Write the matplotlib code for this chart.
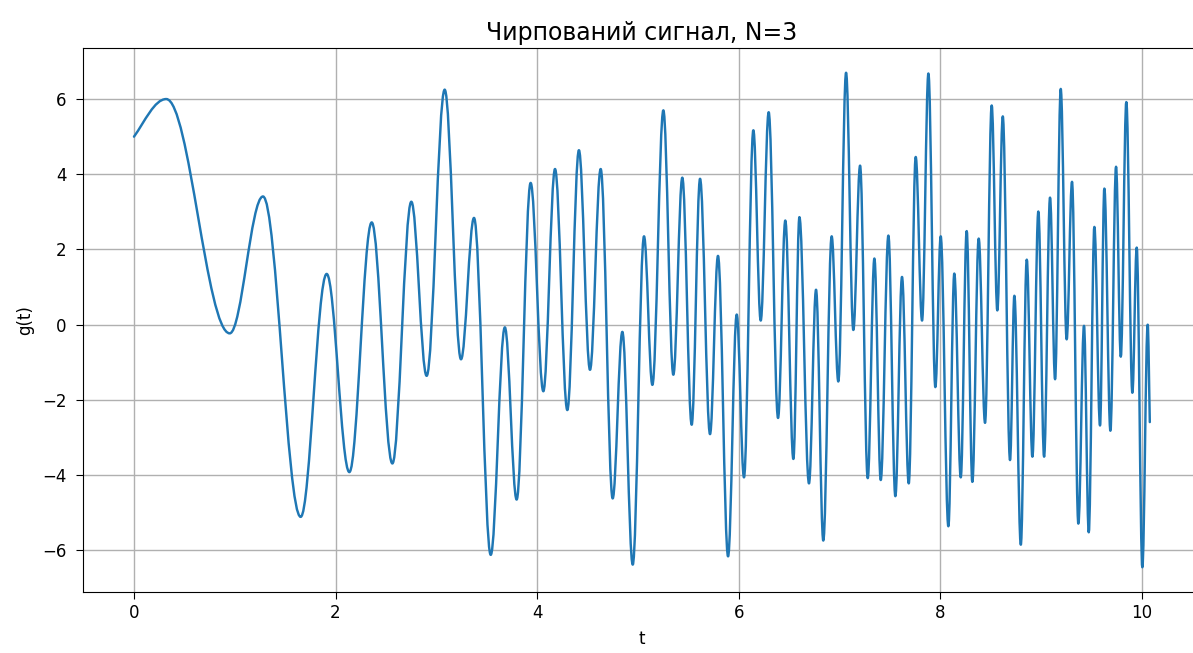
import matplotlib
matplotlib.use("Agg")
import matplotlib.pyplot as plt
from matplotlib.path import Path
from matplotlib.patches import PathPatch

# extrema of the chirped signal (start, peaks/troughs, end)
t_ext = [0.0, 0.32, 0.95, 1.28, 1.654, 1.912, 2.137, 2.359, 2.564, 2.752,
         2.904, 3.083, 3.245, 3.374, 3.54, 3.68, 3.797, 3.936, 4.062, 4.178,
         4.30, 4.415, 4.525, 4.631, 4.75, 4.846, 4.949, 5.061, 5.144, 5.253,
         5.352, 5.441, 5.534, 5.617, 5.716, 5.795, 5.895, 5.981, 6.053, 6.146,
         6.219, 6.298, 6.391, 6.463, 6.543, 6.603, 6.698, 6.768, 6.84, 6.923,
         6.989, 7.066, 7.138, 7.205, 7.281, 7.347, 7.41, 7.486, 7.555, 7.621,
         7.688, 7.757, 7.82, 7.883, 7.952, 8.005, 8.081, 8.14, 8.204, 8.263,
         8.319, 8.382, 8.445, 8.511, 8.567, 8.621, 8.693, 8.736, 8.80, 8.859,
         8.915, 8.974, 9.031, 9.09, 9.14, 9.196, 9.255, 9.308, 9.371, 9.427,
         9.474, 9.53, 9.586, 9.629, 9.689, 9.745, 9.792, 9.847, 9.907, 9.95,
         10.006, 10.059, 10.08]
g_ext = [5.0, 6.0, -0.23, 3.41, -5.11, 1.35, -3.92, 2.72, -3.69, 3.27,
         -1.36, 6.25, -0.92, 2.84, -6.12, -0.07, -4.65, 3.77, -1.77, 4.14,
         -2.27, 4.64, -1.20, 4.14, -4.62, -0.19, -6.38, 2.35, -1.60, 5.70,
         -1.33, 3.91, -2.66, 3.88, -2.91, 1.83, -6.16, 0.27, -4.06, 5.17,
         0.11, 5.65, -2.48, 2.77, -3.57, 2.86, -4.22, 0.93, -5.74, 2.35,
         -1.51, 6.70, -0.14, 4.23, -4.08, 1.76, -4.13, 2.37, -4.56, 1.27,
         -4.22, 4.46, 0.11, 6.68, -1.66, 2.35, -5.36, 1.36, -4.06, 2.49,
         -4.18, 2.29, -2.61, 5.83, 0.38, 5.54, -3.60, 0.77, -5.85, 1.73,
         -3.51, 3.01, -3.51, 3.38, -1.45, 6.27, -0.39, 3.80, -5.29, -0.03,
         -5.52, 2.60, -2.68, 3.62, -2.82, 4.20, -0.85, 5.92, -1.81, 2.05,
         -6.45, 0.0, -2.59]

title = "Чирпований сигнал, N=3"

# smooth curve through the extrema: cubic Bezier per half-wave,
# flat tangents at peaks/troughs (c ~ 1 - 2/pi gives a cosine-like swing)
c = 0.363
verts = [(t_ext[0], g_ext[0])]
codes = [Path.MOVETO]
n = len(t_ext)
for i in range(n - 1):
    t0, y0 = t_ext[i], g_ext[i]
    t1, y1 = t_ext[i + 1], g_ext[i + 1]
    dt, dy = t1 - t0, y1 - y0
    if i == 0:
        p1 = (t0 + dt / 3, y0 + dy * 0.4)
    else:
        p1 = (t0 + c * dt, y0)
    if i == n - 2:
        p2 = (t1 - dt / 3, y1 - dy / 3)
    else:
        p2 = (t1 - c * dt, y1)
    verts += [p1, p2, (t1, y1)]
    codes += [Path.CURVE4] * 3

fig = plt.figure(figsize=(11.93, 6.53), dpi=100)
ax = fig.add_axes([83.2 / 1193, 61 / 653, 1117.4 / 1193, 544 / 653])

curve = PathPatch(Path(verts, codes), facecolor="none", edgecolor="#1f77b4",
                  linewidth=1.75, capstyle="round", joinstyle="round", zorder=2)
ax.add_patch(curve)
ax.autoscale_view()

ax.set_xticks([0, 2, 4, 6, 8, 10])
ax.set_yticks([-6, -4, -2, 0, 2, 4, 6])
ax.grid(True, color="#b0b0b0", linewidth=1.0)
ax.tick_params(labelsize=12, length=5)
ax.tick_params(axis="y", pad=7)
ax.set_xlabel("t", fontsize=12, labelpad=6)
ax.set_ylabel("g(t)", fontsize=12, labelpad=6)
ax.set_title(title, fontsize=17, pad=6)

fig.savefig("out.png", dpi=100)
